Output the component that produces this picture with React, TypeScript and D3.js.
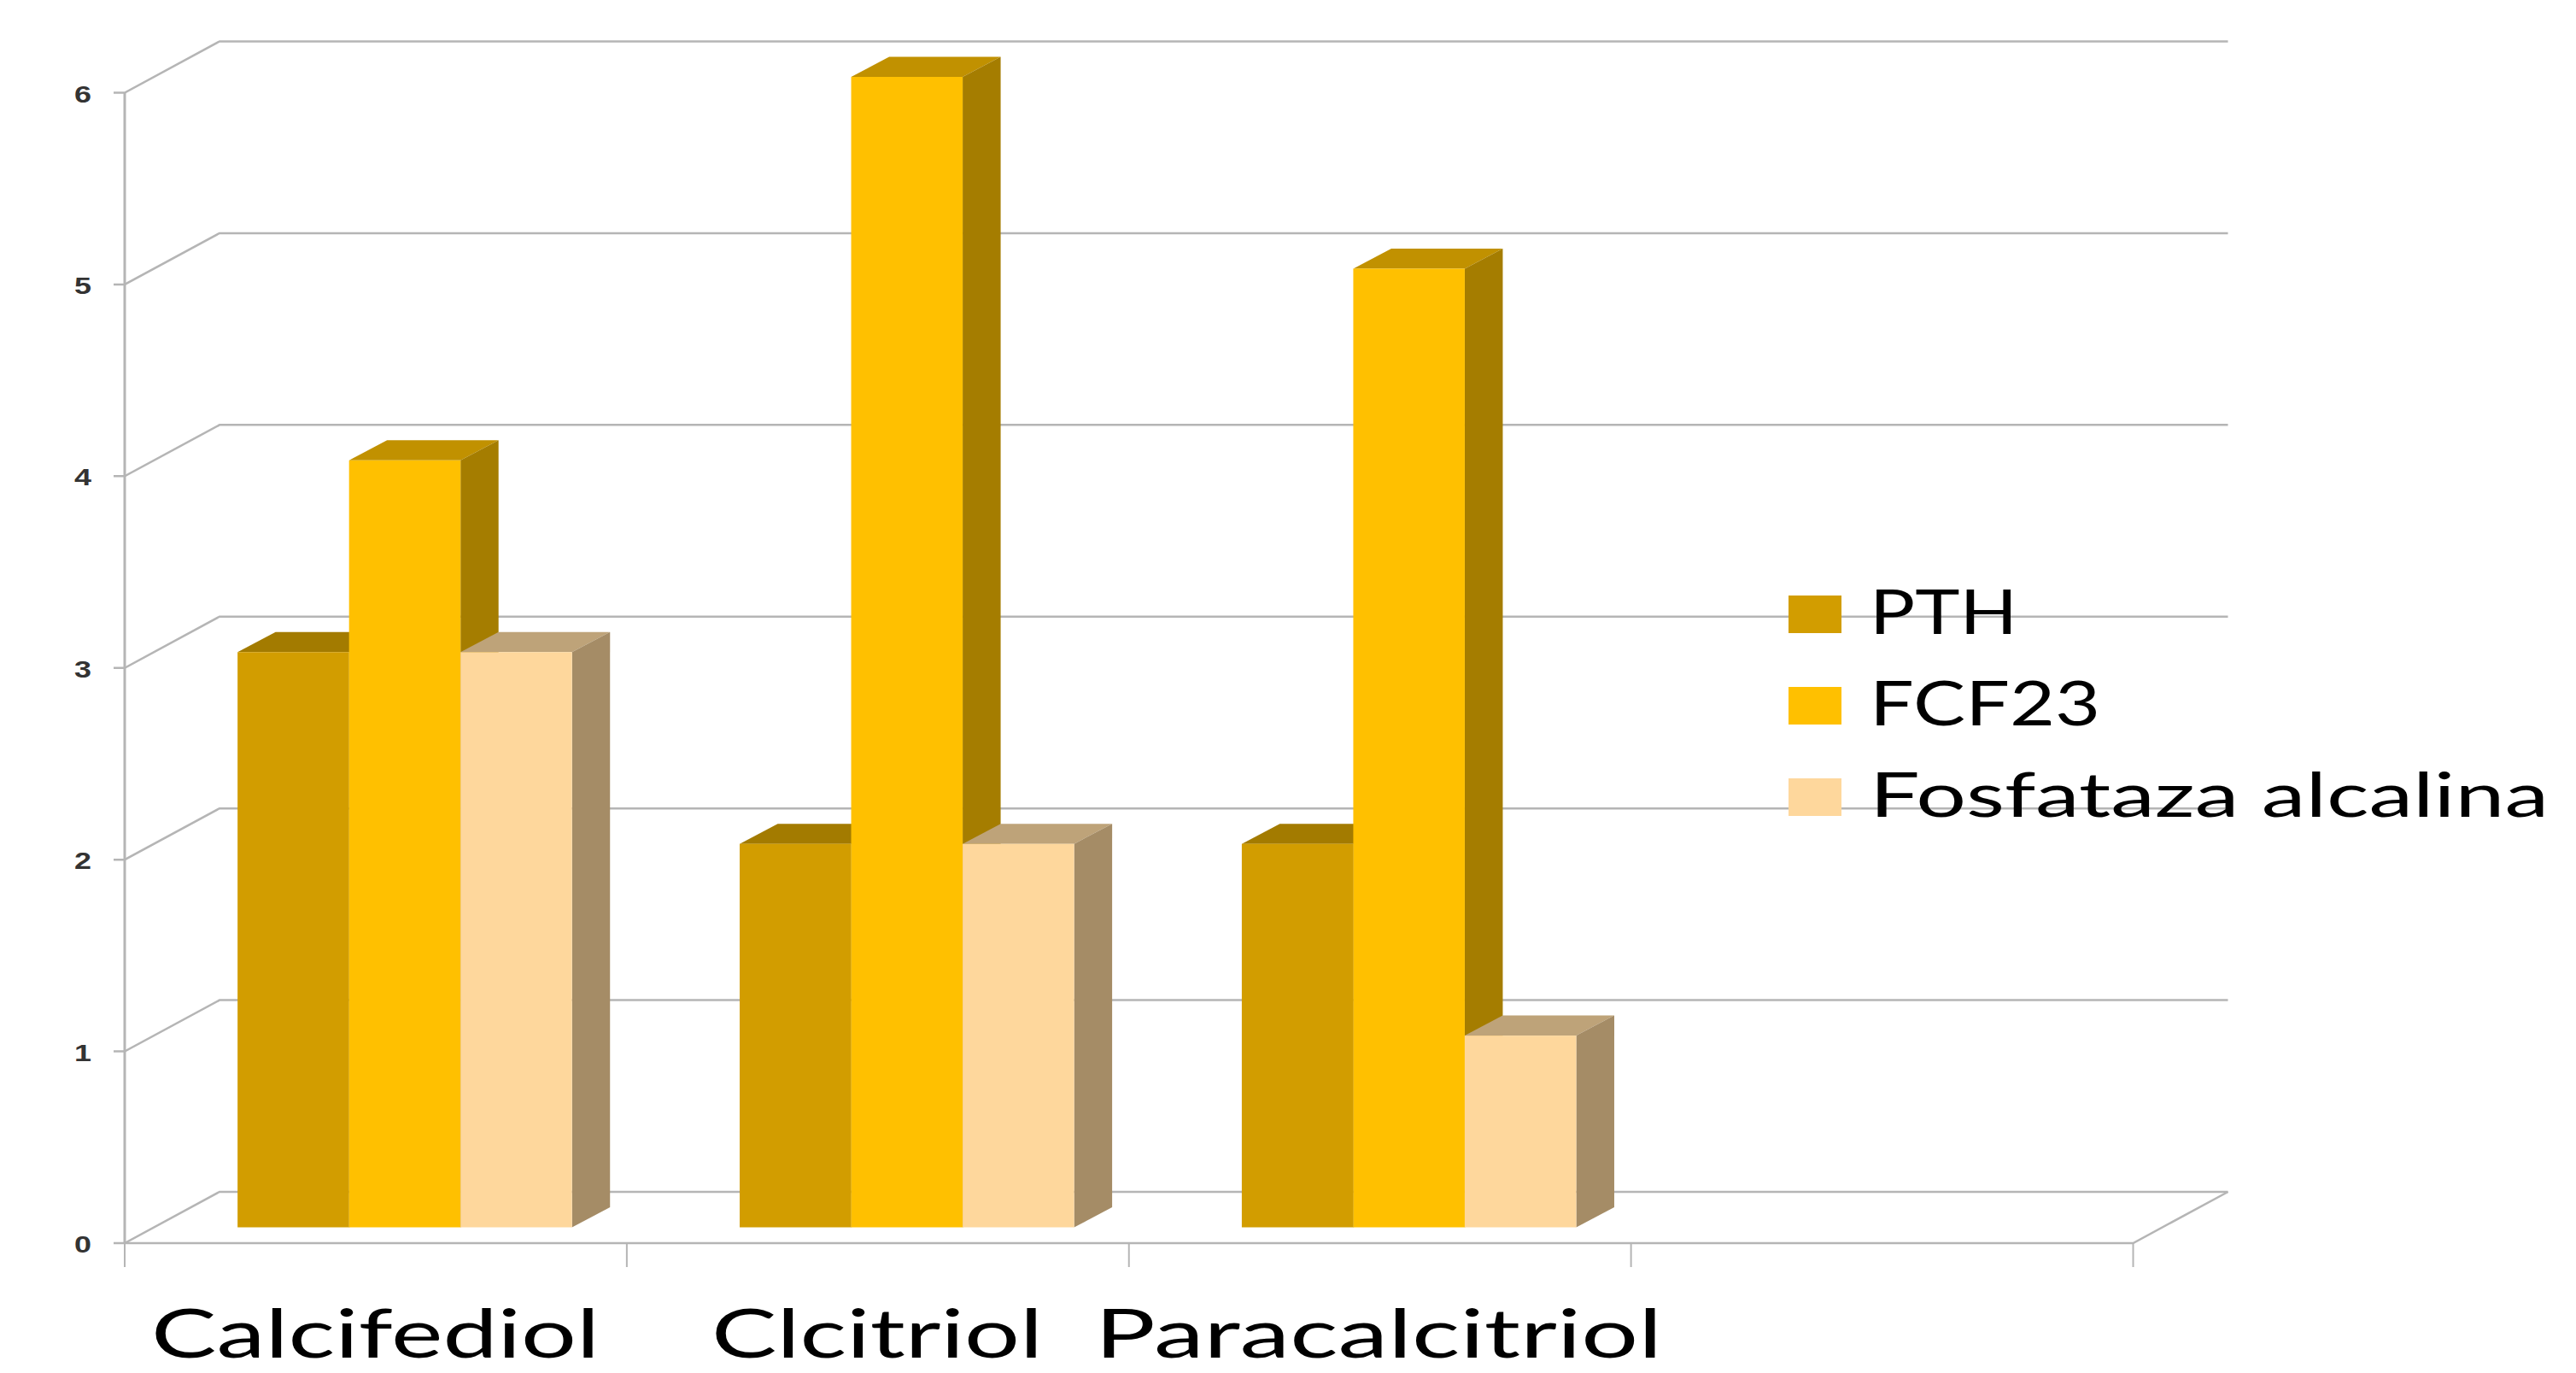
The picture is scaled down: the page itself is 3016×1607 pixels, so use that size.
import React from 'react'
import * as d3 from 'd3'

const categories = ['Calcifediol', 'Clcitriol', 'Paracalcitriol', '']
const categoryLabels = [
  { text: 'Calcifediol', x: 177, width: 525 },
  { text: 'Clcitriol', x: 833, width: 388 },
  { text: 'Paracalcitriol', x: 1282, width: 664 },
]
const seriesNames = ['PTH', 'FCF23', 'Fosfataza alcalina']
const pth = [3, 2, 2]
const fcf23 = [4, 6, 5]
const fosfataza = [3, 2, 1]
const yTicks = [0, 1, 2, 3, 4, 5, 6]

const frontColors = ['#d29d00', '#ffc000', '#fed79c']
const topColors = ['#a37b00', '#c19100', '#bea379']
const sideColors = ['#886600', '#a57d00', '#a58c66']
const legendWidths = [173, 270, 795]

const WIDTH = 3016
const HEIGHT = 1607
const gridColor = '#b5b5b5'
const font = 'Lato, Carlito, sans-serif'

// wall / floor offset of the fake 3d box
const depthX = 111
const depthY = -60
// bar depth is smaller than the box
const barDepthX = 44.5
const barDepthY = -23.5
const barInsetX = 34
const barInsetY = -18.5

export default function App() {
  const x = d3.scaleBand<string>().domain(categories).range([146, 2497.5])
  const y = d3.scaleLinear().domain([0, 6]).range([1455, 108.5])
  const inner = d3
    .scaleBand<number>()
    .domain([0, 1, 2])
    .range([0, x.bandwidth()])
    .paddingOuter(0.752)
    .paddingInner(0)

  const series = [pth, fcf23, fosfataza]
  const line = d3.line()
  const tickXs = [...categories.map((c) => x(c) as number), x.range()[1]]

  return (
    <svg
      width={WIDTH}
      height={HEIGHT}
      viewBox={`0 0 ${WIDTH} ${HEIGHT}`}
      style={{ position: 'absolute', left: 0, top: 0, background: '#fff' }}
    >
      {/* back wall and left wall gridlines */}
      {yTicks.map((t) => (
        <path
          key={`grid-${t}`}
          d={
            line([
              [x.range()[0] - 13, y(t)],
              [x.range()[0], y(t)],
              [x.range()[0] + depthX, y(t) + depthY],
              [x.range()[1] + depthX, y(t) + depthY],
            ]) || ''
          }
          fill="none"
          stroke={gridColor}
          strokeWidth={2.5}
        />
      ))}
      {/* axes */}
      <line x1={146} x2={146} y1={y(6)} y2={y(0)} stroke={gridColor} strokeWidth={3} />
      <path
        d={
          line([
            [x.range()[0], y(0)],
            [x.range()[1], y(0)],
            [x.range()[1] + depthX, y(0) + depthY],
          ]) || ''
        }
        fill="none"
        stroke={gridColor}
        strokeWidth={2.5}
      />
      {tickXs.map((tx, i) => (
        <line key={`xtick-${i}`} x1={tx} x2={tx} y1={y(0)} y2={y(0) + 28} stroke={gridColor} strokeWidth={2} />
      ))}
      {yTicks.map((t) => (
        <text
          key={`ylabel-${t}`}
          x={107}
          y={y(t) + 11}
          textAnchor="end"
          fontFamily="'Liberation Sans', sans-serif"
          fontWeight={700}
          fontSize={28}
          textLength={20}
          lengthAdjust="spacingAndGlyphs"
          fill="#333"
        >
          {t}
        </text>
      ))}

      {/* bars, left to right so each one overlaps the previous */}
      {categories.slice(0, 3).map((cat, ci) => (
        <g key={`group-${cat}`}>
          {series.map((values, si) => {
            const x0 = (x(cat) as number) + barInsetX + (inner(si) as number)
            const w = inner.bandwidth()
            const base = y(0) + barInsetY
            const top = y(values[ci]) + barInsetY
            const x1 = x0 + w
            return (
              <g key={`bar-${si}`}>
                <path
                  d={
                    line([
                      [x0, top],
                      [x0 + barDepthX, top + barDepthY],
                      [x1 + barDepthX, top + barDepthY],
                      [x1, top],
                    ]) + 'Z'
                  }
                  fill={topColors[si]}
                />
                <path
                  d={
                    line([
                      [x1, top],
                      [x1 + barDepthX, top + barDepthY],
                      [x1 + barDepthX, base + barDepthY],
                      [x1, base],
                    ]) + 'Z'
                  }
                  fill={sideColors[si]}
                />
                <rect x={x0} y={top} width={w} height={base - top} fill={frontColors[si]} />
              </g>
            )
          })}
        </g>
      ))}

      {/* category labels */}
      {categoryLabels.map((c) => (
        <text
          key={c.text}
          x={c.x}
          y={1589}
          fontFamily={font}
          fontSize={80}
          textLength={c.width}
          lengthAdjust="spacingAndGlyphs"
          fill="#000"
        >
          {c.text}
        </text>
      ))}

      {/* legend */}
      {seriesNames.map((name, i) => (
        <g key={name} transform={`translate(2094, ${697 + i * 107})`}>
          <rect width={62} height={44} fill={frontColors[i]} />
          <text
            x={95}
            y={45}
            fontFamily={font}
            fontSize={72}
            textLength={legendWidths[i]}
            lengthAdjust="spacingAndGlyphs"
            fill="#000"
          >
            {name}
          </text>
        </g>
      ))}
    </svg>
  )
}
